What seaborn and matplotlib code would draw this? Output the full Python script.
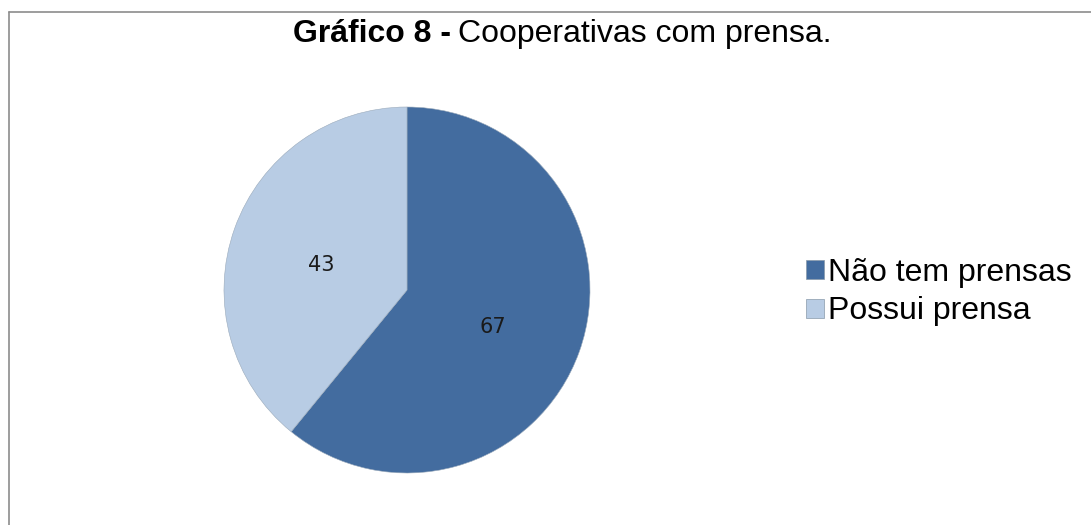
import matplotlib
matplotlib.use('Agg')
import matplotlib.pyplot as plt
from matplotlib.lines import Line2D
from matplotlib.patches import Patch
import seaborn as sns

# Data
categories = ['Não tem prensas', 'Possui prensa']
values = [67, 43]
title_bold = 'Gráfico 8 -'
title_rest = 'Cooperativas com prensa.'

sns.set_theme(style='white')
plt.rcParams['font.family'] = ['Liberation Sans', 'DejaVu Sans']
palette = sns.color_palette(['#436c9f', '#b8cce4'])

W, H = 1091, 525
fig = plt.figure(figsize=(W / 100, H / 100), dpi=100)

# pie axes: centre (407, 290) px, radius 183 px
cx, cy, r = 407, 290, 183
ax = fig.add_axes([(cx - r) / W, (H - cy - r) / H, 2 * r / W, 2 * r / H])
wedges, texts, autotexts = ax.pie(
    values, colors=palette, startangle=90, counterclock=False,
    autopct=lambda p: '{:.0f}'.format(p * sum(values) / 100),
    pctdistance=0.5, radius=1,
    wedgeprops=dict(edgecolor='#9aaabb', linewidth=0.4),
    textprops=dict(fontsize=15, color='#1a1a1a', family='DejaVu Sans'))
# labels sit a little lower in the original
for t in autotexts:
    x, y = t.get_position()
    t.set_position((x, y - 0.033))
ax.set_xlim(-1, 1)
ax.set_ylim(-1, 1)
ax.set_aspect('auto')
ax.axis('off')

# title in two weights
fig.text(451 / W, 1 - 34 / H, title_bold, ha='right', va='center',
         fontsize=23, fontweight='bold', color='black')
fig.text(458 / W, 1 - 34 / H, title_rest, ha='left', va='center',
         fontsize=23, color='black')

# legend
handles = [Patch(facecolor=c, edgecolor='#8899aa', linewidth=0.5) for c in palette]
fig.legend(handles, categories, loc='center left',
           bbox_to_anchor=(806 / W, 1 - 292 / H), frameon=False,
           fontsize=23, handlelength=0.55, handleheight=0.55,
           handletextpad=0.15, labelspacing=0.28, borderaxespad=0,
           borderpad=0, labelcolor='black')

# chart frame (top and left edges visible)
fig.add_artist(Line2D([9 / W, 9 / W], [0, 1 - 12 / H], transform=fig.transFigure,
                      color='#8c8c8c', linewidth=1.2))
fig.add_artist(Line2D([9 / W, 1], [1 - 12 / H, 1 - 12 / H], transform=fig.transFigure,
                      color='#8c8c8c', linewidth=1.2))

fig.savefig('out.png', dpi=100, facecolor='white')
